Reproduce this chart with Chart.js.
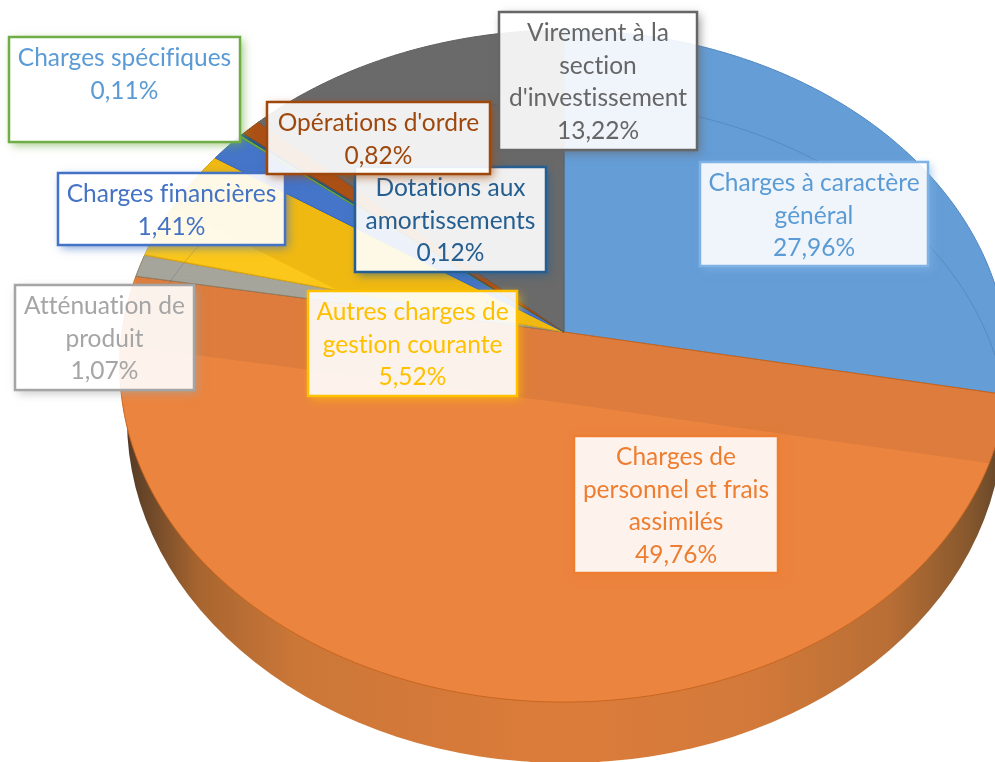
<!DOCTYPE html>
<html lang="fr">
<head>
<meta charset="utf-8">
<title>Répartition des charges</title>
<script src="https://cdn.jsdelivr.net/npm/chart.js@4/dist/chart.umd.min.js"></script>
<style>
	html, body { margin: 0; padding: 0; background: #fff; overflow: hidden; }
	canvas { display: block; }
</style>
</head>
<body>
<canvas id="chart_charges" width="995" height="762"></canvas>
<script>
const categories = [
	'Charges à caractère général',
	'Charges de personnel et frais assimilés',
	'Atténuation de produit',
	'Autres charges de gestion courante',
	'Charges financières',
	'Charges spécifiques',
	'Dotations aux amortissements',
	"Opérations d'ordre",
	"Virement à la section d'investissement",
];
const shares = [27.96, 49.76, 1.07, 5.52, 1.41, 0.11, 0.12, 0.82, 13.22];

const sliceColors = ['#659dd6', '#eb843f', '#a6a59b', '#f0b912', '#4575c8', '#70ad47', '#255e91', '#ac5116', '#6a6a6a'];
const sliceEdges = ['#4f86bf', '#c8661f', '#8f7f66', '#d9a514', '#3a66b4', '#5c9638', '#1f507d', '#93440f', '#5f5f5f'];

// label boxes, same order as categories: left, top, right, bottom, border, text
const labelBoxes = [
	[700, 162, 928, 266, '#7fb2e5', '#5b9bd5'],
	[574, 436, 778, 573, '#ed7d31', '#ed7d31'],
	[15, 285, 194, 390, '#a5a5a5', '#a5a5a5'],
	[308, 291, 517, 396, '#ffc000', '#ffc000'],
	[58, 173, 285, 245, '#4472c4', '#4472c4'],
	[9, 37, 240, 142, '#70ad47', '#5b9bd5'],
	[355, 167, 546, 272, '#255e91', '#255e91'],
	[267, 102, 490, 174, '#9e480e', '#9e480e'],
	[499, 12, 697, 150, '#666666', '#666666'],
];
const labelFont = '24.5px Lato';
const lineStep = 32.7;

// the pie is a tilted disc, so angles go through a perspective projection
const apex = { x: 564, y: 332 };
const tilt = { a: 442, b: 332.6, p: -0.1013 };
const innerDrop = 71;

function project(theta, drop) {
	const u = Math.sin(theta);
	const v = -Math.cos(theta);
	const d = 1 + tilt.p * v;
	return { x: apex.x + (tilt.a * u) / d, y: apex.y + (tilt.b * v) / d + (drop || 0) };
}

function rimPath(ctx, from, to, drop) {
	const steps = Math.max(2, Math.ceil((to - from) / 0.01));
	for (let i = 0; i <= steps; i++) {
		const pt = project(from + ((to - from) * i) / steps, drop);
		ctx.lineTo(pt.x, pt.y);
	}
}

function slicePath(ctx, from, to) {
	ctx.beginPath();
	ctx.moveTo(apex.x, apex.y);
	rimPath(ctx, from, to);
	ctx.closePath();
}

function drawWall(ctx) {
	const grad = ctx.createLinearGradient(120, 0, 995, 0);
	grad.addColorStop(0, '#4c3626');
	grad.addColorStop(0.03, '#6a4729');
	grad.addColorStop(0.09, '#a8652f');
	grad.addColorStop(0.2, '#cb7738');
	grad.addColorStop(0.5, '#dc7c3a');
	grad.addColorStop(0.72, '#d37a3a');
	grad.addColorStop(0.88, '#b86e35');
	grad.addColorStop(0.97, '#87582d');
	grad.addColorStop(1, '#6b4a2a');
	ctx.fillStyle = grad;
	ctx.beginPath();
	ctx.ellipse(565, 420, 438, 343, 0, 0, Math.PI * 2);
	ctx.fill();
}

const tiltedPie = {
	id: 'tiltedPie',
	beforeDatasetsDraw(chart) {
		const ctx = chart.ctx;
		const arcs = chart.getDatasetMeta(0).data;
		const colors = chart.data.datasets[0].backgroundColor;
		const angle = arc => arc.startAngle + Math.PI / 2;
		const angleEnd = arc => arc.endAngle + Math.PI / 2;

		ctx.save();
		drawWall(ctx);

		arcs.forEach((arc, i) => {
			slicePath(ctx, angle(arc), angleEnd(arc));
			ctx.fillStyle = colors[i];
			ctx.fill();
			ctx.lineWidth = 1;
			ctx.strokeStyle = sliceEdges[i];
			ctx.stroke();
		});

		// darker band: inside of the disc seen through the front slice
		const front = arcs[1];
		const a = angle(front);
		const b = angleEnd(front);
		ctx.save();
		slicePath(ctx, a, b);
		ctx.clip();
		const p1 = project(a);
		const p2 = project(b);
		ctx.beginPath();
		ctx.moveTo(p2.x, p2.y);
		ctx.lineTo(apex.x, apex.y);
		ctx.lineTo(p1.x, p1.y);
		ctx.lineTo(p1.x, p1.y + innerDrop);
		ctx.lineTo(apex.x, apex.y + innerDrop);
		ctx.lineTo(p2.x, p2.y + innerDrop);
		ctx.closePath();
		ctx.fillStyle = 'rgba(60,40,30,0.08)';
		ctx.fill();
		ctx.restore();

		// same thing on the yellow slice, lighter under the dropped edge
		const side = arcs[3];
		const sideEnd = project(angleEnd(side), innerDrop);
		ctx.save();
		slicePath(ctx, angle(side) + 0.004, angleEnd(side));
		ctx.clip();
		ctx.beginPath();
		ctx.moveTo(apex.x, apex.y + innerDrop);
		ctx.lineTo(sideEnd.x, sideEnd.y);
		ctx.lineTo(2 * sideEnd.x - apex.x, 2 * sideEnd.y - apex.y - innerDrop);
		ctx.lineTo(0, 762);
		ctx.lineTo(apex.x, 762);
		ctx.closePath();
		ctx.fillStyle = 'rgba(255,205,30,0.7)';
		ctx.fill();
		ctx.restore();

		// faint far rim showing through the top
		ctx.save();
		slicePath(ctx, 0, Math.PI * 2);
		ctx.clip();
		ctx.beginPath();
		const rimStart = project(b - Math.PI * 2, innerDrop);
		ctx.moveTo(rimStart.x, rimStart.y);
		rimPath(ctx, b - Math.PI * 2, a, innerDrop);
		ctx.strokeStyle = 'rgba(40,70,120,0.2)';
		ctx.lineWidth = 1;
		ctx.stroke();
		ctx.restore();

		ctx.restore();
		return false;
	},
	afterDraw(chart) {
		const ctx = chart.ctx;
		const values = chart.data.datasets[0].data;
		chart.data.labels.forEach((name, i) => {
			const [l, t, r, b, border, color] = labelBoxes[i];
			const w = r - l;
			const h = b - t;

			ctx.save();
			// shadow only outside the box because the fill is see-through
			ctx.beginPath();
			ctx.rect(0, 0, 995, 762);
			ctx.rect(l, t, w, h);
			ctx.clip('evenodd');
			ctx.shadowColor = border + 'aa';
			ctx.shadowBlur = 9;
			ctx.shadowOffsetX = 3;
			ctx.shadowOffsetY = 3;
			ctx.fillStyle = '#fff';
			ctx.fillRect(l, t, w, h);
			ctx.restore();

			ctx.fillStyle = 'rgba(255,255,255,0.9)';
			ctx.fillRect(l, t, w, h);
			ctx.strokeStyle = border;
			ctx.lineWidth = 2.5;
			ctx.strokeRect(l, t, w, h);

			ctx.font = labelFont;
			ctx.textRendering = 'optimizeSpeed';
			ctx.fillStyle = color;
			ctx.textAlign = 'center';
			ctx.textBaseline = 'middle';
			const lines = wrapText(ctx, name, w - 6);
			lines.push(values[i].toFixed(2).replace('.', ',') + '%');
			lines.forEach((line, n) => {
				ctx.fillText(line, (l + r) / 2, t + 21 + n * lineStep);
			});
		});
	},
};

function wrapText(ctx, text, maxWidth) {
	const lines = [];
	let line = '';
	text.split(' ').forEach(word => {
		const next = line ? line + ' ' + word : word;
		if (ctx.measureText(next).width > maxWidth && line) {
			lines.push(line);
			line = word;
		} else {
			line = next;
		}
	});
	lines.push(line);
	return lines;
}

const chartCharges = new Chart(document.getElementById('chart_charges'), {
	type: 'pie',
	data: {
		labels: categories,
		datasets: [
			{
				data: shares,
				backgroundColor: sliceColors,
			},
		],
	},
	plugins: [tiltedPie],
	options: {
		responsive: false,
		animation: false,
		rotation: 0,
		plugins: {
			legend: { display: false },
			title: { display: false },
			tooltip: { enabled: false },
		},
	},
});
</script>
</body>
</html>
